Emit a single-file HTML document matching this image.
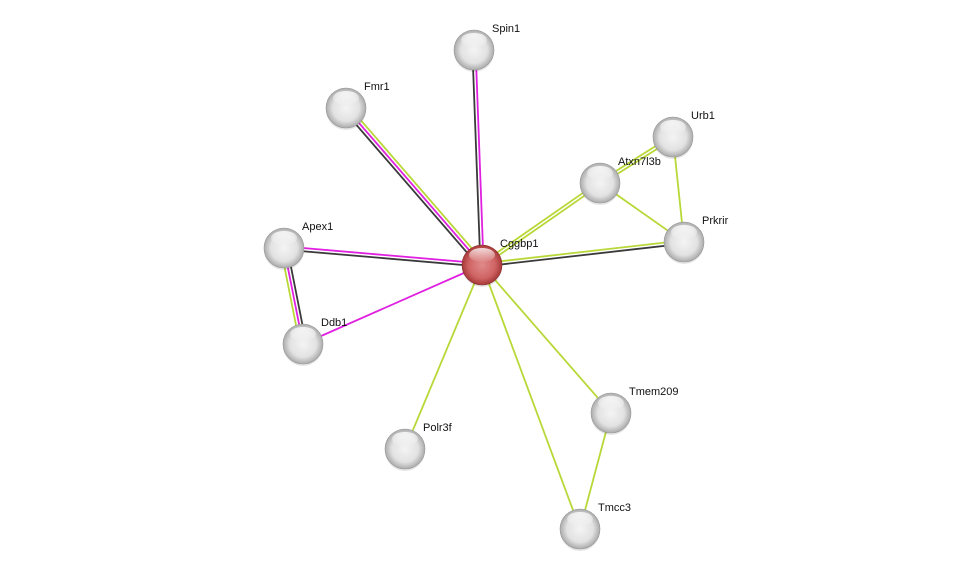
<!DOCTYPE html>
<html><head><meta charset="utf-8"><style>
html,body{margin:0;padding:0;background:#fff;}
svg{display:block;}
text{font-family:"Liberation Sans",sans-serif;font-size:11px;fill:#111;}
</style></head><body>
<svg id="s" width="976" height="574" xmlns="http://www.w3.org/2000/svg">
<defs>
<radialGradient id="g" cx="50%" cy="50%" r="55%">
<stop offset="0" stop-color="#f4f4f4"/><stop offset="0.6" stop-color="#e2e2e2"/><stop offset="0.88" stop-color="#b0b0b0"/><stop offset="1" stop-color="#8c8c8c"/>
</radialGradient>
<radialGradient id="r" cx="50%" cy="50%" r="55%">
<stop offset="0" stop-color="#e08a8a"/><stop offset="0.6" stop-color="#d06464"/><stop offset="0.88" stop-color="#aa3c3c"/><stop offset="1" stop-color="#8a2a2a"/>
</radialGradient>
<linearGradient id="h" x1="0" y1="0" x2="0" y2="1">
<stop offset="0" stop-color="#fff" stop-opacity="0.8"/><stop offset="1" stop-color="#fff" stop-opacity="0.05"/>
</linearGradient>
</defs>
<g id="edges"></g><g id="nodes"></g>
</svg>
<script>
var N={Spin1:[474,50],Fmr1:[346,108],Urb1:[673,137],Atxn7l3b:[600,183],Apex1:[284,248],Cggbp1:[482,265],Prkrir:[684,242],Ddb1:[303,344],Tmem209:[611,413],Polr3f:[405,449],Tmcc3:[580,529]};
var K="#3a3a3a",M="#e020e0",Y="#b8d838";
var E=[["Cggbp1","Spin1",[K,M]],["Cggbp1","Fmr1",[K,M,Y]],["Cggbp1","Apex1",[K,M]],["Cggbp1","Ddb1",[M]],["Cggbp1","Atxn7l3b",[Y,Y]],["Cggbp1","Prkrir",[Y,K]],["Cggbp1","Polr3f",[Y]],["Cggbp1","Tmcc3",[Y]],["Cggbp1","Tmem209",[Y]],["Apex1","Ddb1",[K,M,Y]],["Atxn7l3b","Urb1",[Y,Y]],["Atxn7l3b","Prkrir",[Y]],["Urb1","Prkrir",[Y]],["Tmem209","Tmcc3",[Y]]];
var ns="http://www.w3.org/2000/svg",eg=document.getElementById("edges"),ng=document.getElementById("nodes");
E.forEach(function(e){var a=N[e[0]],b=N[e[1]],dx=b[0]-a[0],dy=b[1]-a[1],L=Math.hypot(dx,dy),px=-dy/L,py=dx/L,n=e[2].length;
e[2].forEach(function(c,i){var o=(i-(n-1)/2)*3.2;var l=document.createElementNS(ns,"line");
l.setAttribute("x1",a[0]+px*o);l.setAttribute("y1",a[1]+py*o);l.setAttribute("x2",b[0]+px*o);l.setAttribute("y2",b[1]+py*o);
l.setAttribute("stroke",c);l.setAttribute("stroke-width","1.8");eg.appendChild(l);});});
for(var k in N){var p=N[k];var g=document.createElementNS(ns,"g");
g.innerHTML='<circle cx="'+p[0]+'" cy="'+(p[1]+2)+'" r="20" fill="#000" opacity="0.1"/>'+
'<circle cx="'+p[0]+'" cy="'+p[1]+'" r="20" fill="url(#'+(k=="Cggbp1"?"r":"g")+')" stroke="'+(k=="Cggbp1"?"#8a3030":"#999")+'" stroke-width="0.6"/>'+
'<ellipse cx="'+p[0]+'" cy="'+(p[1]-10)+'" rx="13" ry="7" fill="url(#h)"/>'+
'<text x="'+(p[0]+18)+'" y="'+(p[1]-18)+'">'+k+'</text>';ng.appendChild(g);}
</script>
</body></html>
